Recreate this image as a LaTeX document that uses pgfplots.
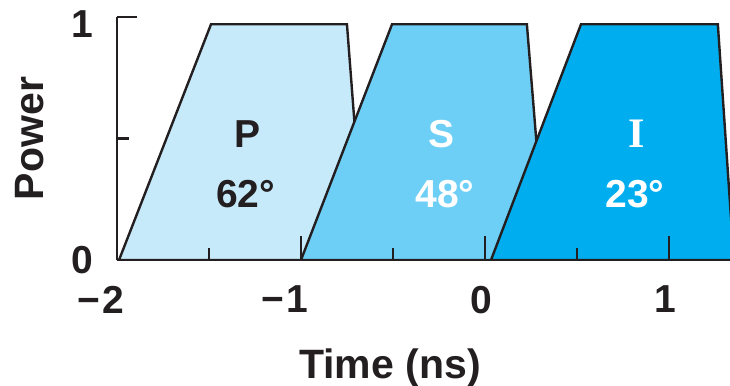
\documentclass[border=0pt]{standalone}
\usepackage{pgfplots}
\pgfplotsset{compat=1.18}
\usepackage{fontspec}
\setmainfont{Liberation Sans}
\newfontfamily\serifI{Liberation Serif}
\definecolor{dk}{HTML}{231F20}
\definecolor{cP}{HTML}{C7EAFB}
\definecolor{cS}{HTML}{6DCFF6}
\definecolor{cI}{HTML}{00AEEF}
\begin{document}
\begin{tikzpicture}
\begin{axis}[
 scale only axis, width=306.5pt, height=121.5pt,
 xmin=-2, xmax=1.332, ymin=0, ymax=1,
 axis lines*=left, axis on top,
 axis line style={line width=1.2pt, dk},
 tick style={line width=1.2pt, dk},
 tick align=inside,
 major tick length=12pt, minor tick length=6pt,
 xtick={-2,-1,0,1}, xticklabels={\llap{−\kern0.05em}2,\llap{−\kern0.05em}1,0,1},
 minor xtick={-1.5,-0.5,0.5},
 ytick={0}, yticklabels={0}, minor ytick={0.5},
 extra y ticks={1}, extra y tick labels={1},
 extra y tick style={major tick length=10pt, yticklabel style={yshift=-3.5pt}},
 tick label style={font=\fontsize{19.5}{22}\selectfont\bfseries, text=dk, inner sep=0pt},
 xticklabel style={yshift=-12.8pt, xshift=-2pt},
 yticklabel style={xshift=-11.5pt},
 xlabel={Time (ns)}, ylabel={Power},
 label style={font=\fontsize{20.5}{24}\selectfont\bfseries, text=dk},
 xlabel style={at={(rel axis cs:0.4454,-0.4856)}, anchor=base},
 ylabel style={at={(rel axis cs:-0.1207,0.5)}, anchor=base},
]
\addplot[draw=dk, line width=1.2pt, fill=cP] coordinates {(-1.989,0) (-1.489,0.97) (-0.75,0.97) (-0.652,0)} \closedcycle;
\addplot[draw=dk, line width=1.2pt, fill=cS] coordinates {(-1.0,0) (-0.505,0.97) (0.228,0.97) (0.332,0)} \closedcycle;
\addplot[draw=dk, line width=1.2pt, fill=cI] coordinates {(0.033,0) (0.522,0.97) (1.266,0.97) (1.353,0)} \closedcycle;
\node[font=\fontsize{19.5}{24}\selectfont\bfseries, text=dk, anchor=base] at (axis cs:-1.29,0.465) {P};
\node[font=\fontsize{19.5}{24}\selectfont\bfseries, text=dk, anchor=base] at (axis cs:-1.30,0.218) {62°};
\node[font=\fontsize{19.5}{24}\selectfont\bfseries, text=white, anchor=base] at (axis cs:-0.236,0.465) {S};
\node[font=\fontsize{19.5}{24}\selectfont\bfseries, text=white, anchor=base] at (axis cs:-0.217,0.218) {48°};
\node[font=\fontsize{21}{24}\selectfont\serifI\bfseries, text=white, anchor=base] at (axis cs:0.826,0.465) {I};
\node[font=\fontsize{19.5}{24}\selectfont\bfseries, text=white, anchor=base] at (axis cs:0.815,0.218) {23°};
\coordinate (o) at (axis cs:-2,0);
\end{axis}
\pgfresetboundingbox
\path ([shift={(-58.5pt,-63pt)}]o) rectangle ([shift={(306.5pt,130pt)}]o);
\end{tikzpicture}
\end{document}
